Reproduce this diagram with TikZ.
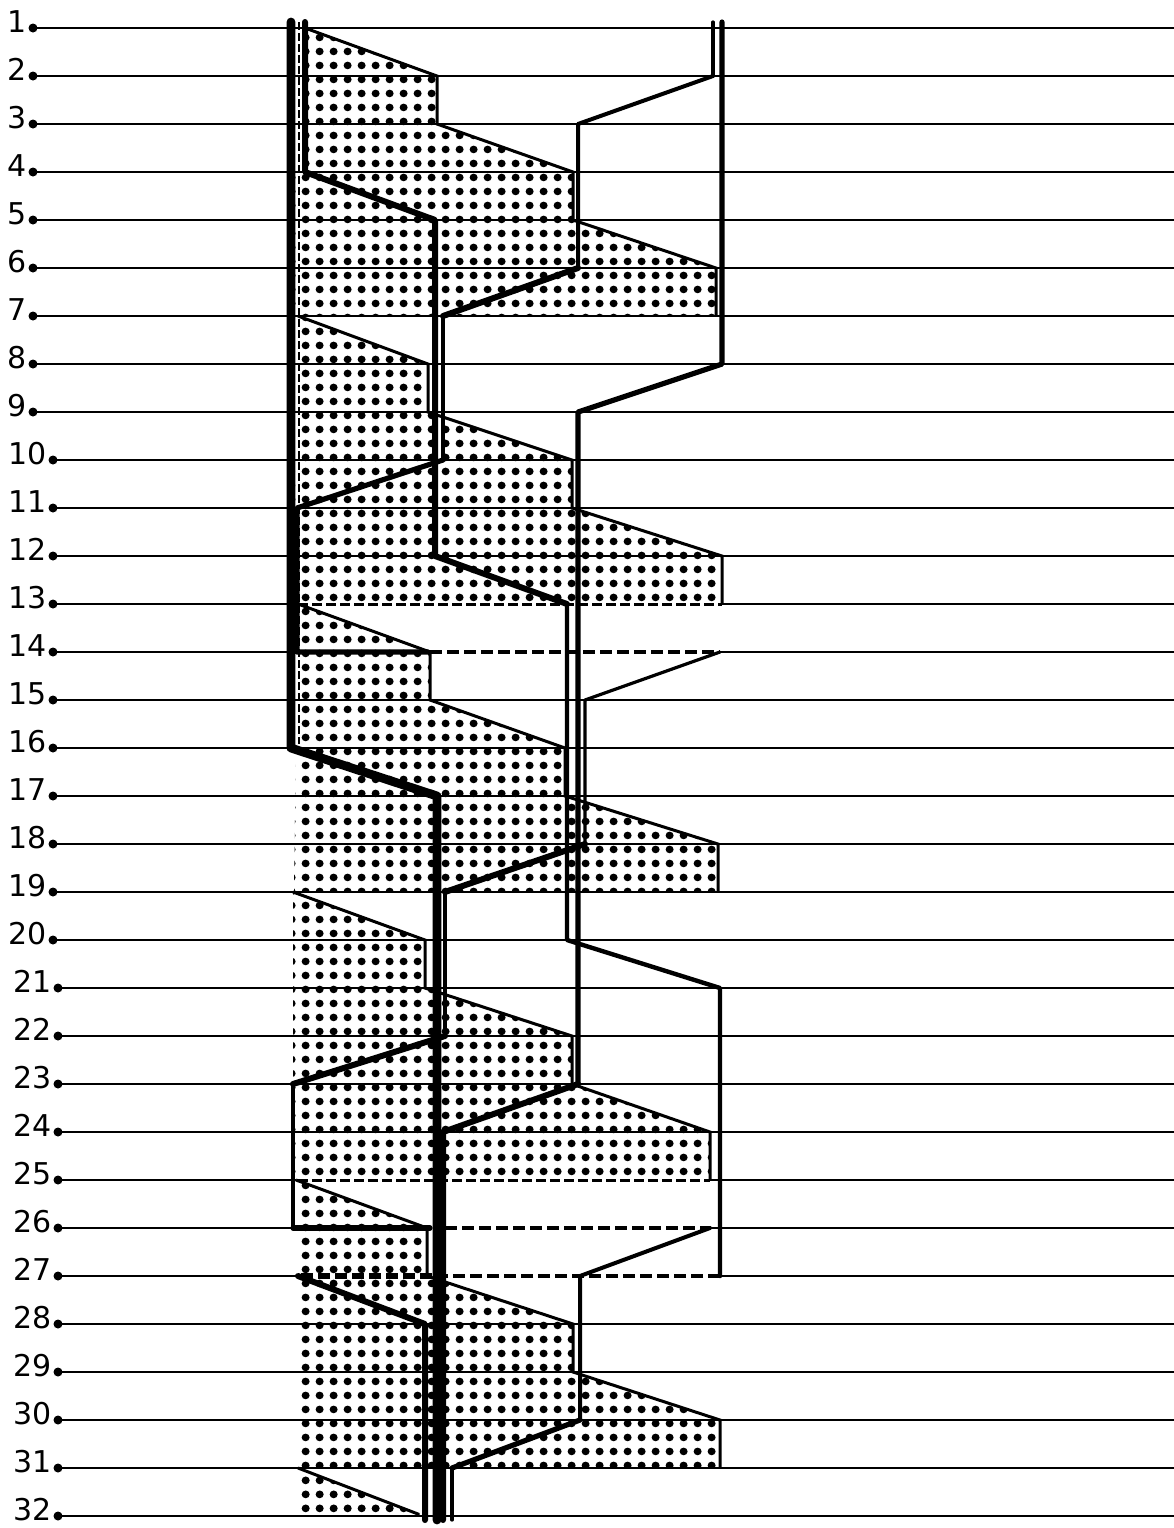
\documentclass[tikz,border=0pt]{standalone}
\usepackage{fontspec}
\setmainfont{DejaVu Sans}
\usetikzlibrary{patterns.meta}
\tikzdeclarepattern{
  name=htdots,
  type=colored,
  bounding box={(0pt,0pt) and (6.8pt,7.0pt)},
  tile size={(6.8pt,7.0pt)},
  code={\fill[black] (3.4pt,3.5pt) circle[radius=2.05pt];}
}
\begin{document}
\begin{tikzpicture}[x=0.5pt,y=-0.5pt,
  rule/.style={line width=0.9pt},
  edgeline/.style={line width=1.5pt,line join=miter},
  strand/.style={line cap=round,line join=round},
  dashA/.style={dash pattern=on 6pt off 2.5pt},
  dotfill/.style={pattern=htdots},
  lab/.style={font=\fontsize{15}{17}\selectfont,inner sep=0pt,anchor=base east}]
\useasboundingbox (0,0) rectangle (1174,1528);

% ---- shaded areas
\fill[dotfill] (305,28) -- (437,76) -- (437,124) -- (573,172) -- (573,220) -- (716,268) -- (716,316) -- (294,316) -- (294,172) -- (305,172) -- cycle;
\fill[dotfill] (298,316) -- (428,364) -- (428,412) -- (572,460) -- (572,508) -- (722,556) -- (722,604) -- (294,604) -- cycle;
\fill[dotfill] (298,604) -- (430,652) -- (430,700) -- (565,748) -- (565,796) -- (718,844) -- (718,892) -- (294,892) -- cycle;
\fill[dotfill] (293,892) -- (425,940) -- (425,988) -- (572,1036) -- (572,1084) -- (710,1132) -- (710,1180) -- (293,1180) -- cycle;
\fill[dotfill] (296,1180) -- (427,1228) -- (427,1276) -- (573,1324) -- (573,1372) -- (720,1420) -- (720,1468) -- (296,1468) -- cycle;
\fill[dotfill] (298,1468) -- (418,1514) -- (418,1516) -- (296,1516) -- cycle;

% ---- row rules, dots and labels
\foreach \n in {1,...,32} {
  \pgfmathsetmacro\yy{28+48*(\n-1)}
  \pgfmathsetmacro\dx{\n<10 ? 33 : (\n<21 ? 53 : 58)}
  \fill (\dx,\yy) circle[radius=4.5];
  \node[lab] (l\n) at (\dx-6,\yy+4) {\n};
}
\foreach \n in {1,...,12,15,16,...,24,28,29,...,32} {
  \pgfmathsetmacro\yy{28+48*(\n-1)}
  \pgfmathsetmacro\dx{\n<10 ? 33 : (\n<21 ? 53 : 58)}
  \draw[rule] (\dx,\yy) -- (1174,\yy);
}
\foreach \n/\a/\b in {13/296/722,14/291/720,25/296/710,26/293/710,27/298/720} {
  \pgfmathsetmacro\yy{28+48*(\n-1)}
  \pgfmathsetmacro\dx{\n<21 ? 53 : 58}
  \draw[rule] (\dx,\yy) -- (\a,\yy);
  \draw[rule] (\b,\yy) -- (1174,\yy);
}
% dashed rows
\draw[line width=1.5pt,dash pattern=on 5pt off 2pt] (298,604) -- (722,604);
\draw[line width=1.5pt,dash pattern=on 5pt off 2pt] (298,1180) -- (710,1180);

% ---- edges of the shaded areas
\draw[edgeline] (305,28) -- (437,76) -- (437,124) -- (573,172) -- (573,220) -- (716,268) -- (716,316);
\draw[edgeline] (298,316) -- (428,364) -- (428,412) -- (572,460) -- (572,508) -- (722,556) -- (722,604);
\draw[edgeline] (298,604) -- (430,652) -- (430,700) -- (565,748) -- (565,796) -- (718,844) -- (718,892);
\draw[edgeline] (293,892) -- (425,940) -- (425,988) -- (572,1036) -- (572,1084) -- (710,1132) -- (710,1180);
\draw[edgeline] (296,1180) -- (427,1228) -- (427,1276) -- (573,1324) -- (573,1372) -- (720,1420) -- (720,1468);
\draw[edgeline] (298,1468) -- (418,1514) -- (418,1516);

% ---- strand A (heaviest)
\draw[strand,line width=4.4pt] (291,22) -- (291,748) -- (437,796) -- (437,1520);
\draw[line width=1pt,dash pattern=on 4pt off 1.5pt] (299,22) -- (299,744);

% ---- strand B
\draw[strand,line width=3pt] (305,22) -- (305,172) -- (435,220) -- (435,556) -- (567,604);
\draw[strand,line width=2.2pt] (567,604) -- (567,940) -- (720,988) -- (720,1276);
\draw[line width=1.8pt,dashA] (720,1276) -- (445,1276);
\draw[line width=3pt,dashA] (432,1276) -- (298,1276);
\draw[strand,line width=3pt] (298,1276) -- (425,1324) -- (425,1520);

% ---- strand R
\draw[strand,line width=2.6pt] (722,22) -- (722,364) -- (578,412) -- (578,1084);
\draw[strand,line width=3pt] (578,1084) -- (443,1132) -- (443,1520);

% ---- strand S
\draw[strand,line width=1.6pt] (713,22) -- (713,76);
\draw[strand,line width=2pt] (713,76) -- (578,124) -- (578,268);
\draw[strand,line width=3pt] (578,268) -- (443,316);
\draw[strand,line width=2pt] (443,316) -- (443,460);
\draw[strand,line width=2.6pt] (443,460) -- (297,508) -- (297,652) -- (428,652);
\draw[line width=1.6pt,dashA] (430,652) -- (720,652);
\draw[strand,line width=1.6pt] (720,652) -- (585,700) -- (585,844);
\draw[strand,line width=3pt] (585,844) -- (445,892);
\draw[strand,line width=1.8pt] (445,892) -- (445,1036);
\draw[strand,line width=3pt] (445,1036) -- (293,1084);
\draw[strand,line width=2pt] (293,1084) -- (293,1228);
\draw[strand,line width=2.6pt] (293,1228) -- (430,1228);
\draw[line width=1.6pt,dashA] (445,1228) -- (710,1228);
\draw[strand,line width=2pt] (710,1228) -- (580,1276) -- (580,1420);
\draw[strand,line width=2.6pt] (580,1420) -- (452,1468);
\draw[strand,line width=1.6pt] (452,1468) -- (452,1520);
\end{tikzpicture}
\end{document}
